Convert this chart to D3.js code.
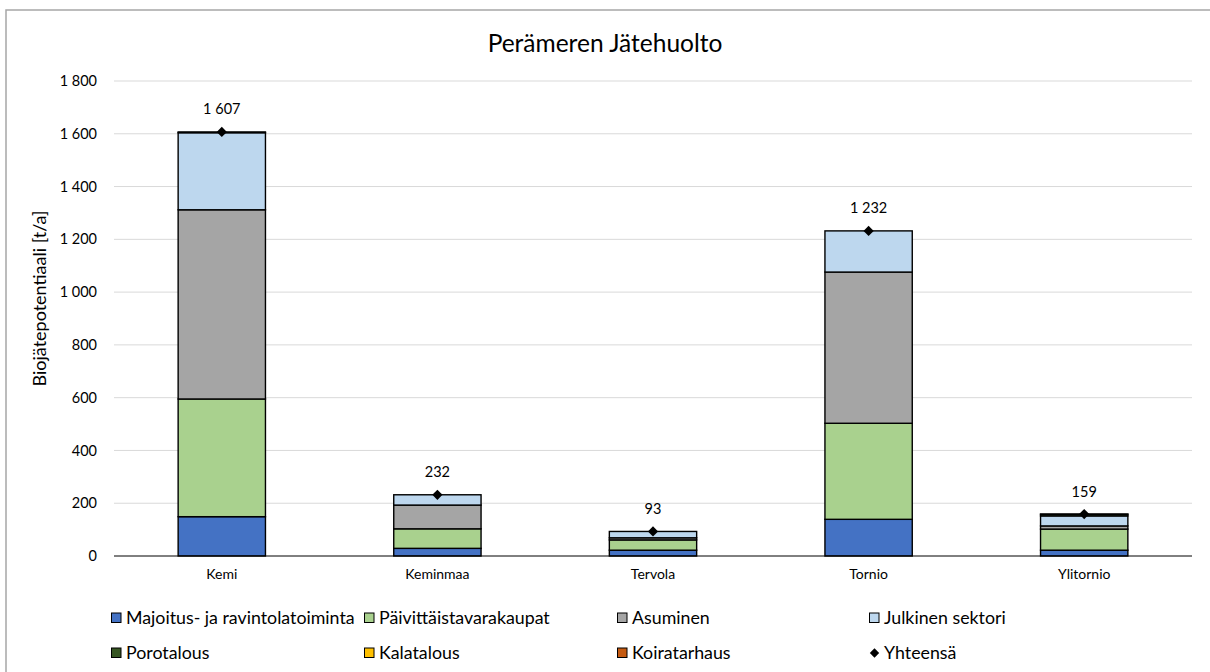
<!DOCTYPE html>
<html><head><meta charset="utf-8">
<script src="https://cdn.jsdelivr.net/npm/d3@7"></script>
<style>body{margin:0;background:#fff;} svg{display:block;font-family:Lato, "Open Sans", sans-serif;}</style>
</head><body>
<svg id="c" width="1210" height="672"></svg>
<script>
const categories = ["Kemi","Keminmaa","Tervola","Tornio","Ylitornio"];
const seriesNames = ["Majoitus- ja ravintolatoiminta","Päivittäistavarakaupat","Asuminen","Julkinen sektori","Porotalous","Kalatalous","Koiratarhaus"];
const majoitus = [149, 29, 22, 139, 22];
const paivittais = [446, 74, 39, 364, 80];
const asuminen = [717, 90, 8, 573, 12];
const julkinen = [292, 39, 24, 156, 38];
const porotalous = [3, 0, 0, 0, 6];
const kalatalous = [0, 0, 0, 0, 1];
const koiratarhaus = [0, 0, 0, 0, 0];
const yhteensa = [1607, 232, 93, 1232, 159];
const yTicks = [0,200,400,600,800,1000,1200,1400,1600,1800];
const colors = ["#4472C4","#A9D18E","#A5A5A5","#BDD7EE","#375623","#FFC000","#C55A11"];

const seriesArrays = [majoitus,paivittais,asuminen,julkinen,porotalous,kalatalous,koiratarhaus];
const rows = categories.map((c,i)=>{const o={cat:c}; seriesNames.forEach((s,j)=>o[s]=seriesArrays[j][i]); return o;});
const stack = d3.stack().keys(seriesNames)(rows);

const svg = d3.select("#c");
const fmt = v => d3.format(",")(v).replace(/,/g," ");
svg.append("rect").attr("x",6).attr("y",10).attr("width",1220).attr("height",680)
  .attr("fill","#fff").attr("stroke","#A6A6A6").attr("stroke-width",1.5);

const x = d3.scaleBand().domain(categories).range([114,1192]).paddingInner(0.595).paddingOuter(0.2975);
const y = d3.scaleLinear().domain([0,1800]).range([556,81]);

// gridlines
svg.append("g").selectAll("line").data(yTicks.filter(t=>t>0)).join("line")
  .attr("x1",114).attr("x2",1192).attr("y1",d=>y(d)).attr("y2",d=>y(d))
  .attr("stroke","#D9D9D9").attr("stroke-width",1);

// y axis labels
const yAxis = d3.axisLeft(y).tickValues(yTicks).tickFormat(fmt).tickSize(0).tickPadding(0);
const gy = svg.append("g").attr("transform","translate(97,0)").call(yAxis);
gy.select(".domain").remove();
gy.selectAll("text").attr("font-size",14.5).attr("fill","#000").attr("font-family","Lato, sans-serif");

// bars
svg.append("g").selectAll("g").data(stack).join("g").attr("fill",(d,i)=>colors[i])
  .selectAll("rect").data(d=>d.filter(p=>p[1]-p[0]>0)).join("rect")
  .attr("x",d=>x(d.data.cat)).attr("width",x.bandwidth())
  .attr("y",d=>y(d[1])).attr("height",d=>y(d[0])-y(d[1]))
  .attr("stroke","#000").attr("stroke-width",1.4);

// baseline
svg.append("line").attr("x1",114).attr("x2",1192).attr("y1",y(0)).attr("y2",y(0)).attr("stroke","#000").attr("stroke-width",1);

// x axis labels
const xAxis = d3.axisBottom(x).tickSize(0).tickPadding(0);
const gx = svg.append("g").attr("transform",`translate(0,${y(0)+13})`).call(xAxis);
gx.select(".domain").remove();
gx.selectAll("text").attr("font-size",14).attr("fill","#000").attr("font-family","Lato, sans-serif");

// totals markers
const diamond = d3.symbol().type(d3.symbolSquare).size(52);
svg.append("g").selectAll("path").data(yhteensa).join("path")
  .attr("d",diamond).attr("transform",(d,i)=>`translate(${x(categories[i])+x.bandwidth()/2},${y(d)}) rotate(45)`).attr("fill","#000");
svg.append("g").selectAll("text").data(yhteensa).join("text")
  .attr("x",(d,i)=>x(categories[i])+x.bandwidth()/2).attr("y",d=>y(d)-17.5)
  .attr("text-anchor","middle").attr("font-size",14.5).attr("fill","#000").text(fmt);

// title
svg.append("text").attr("x",605).attr("y",52).attr("text-anchor","middle").attr("font-size",24.5).attr("fill","#000").text("Perämeren Jätehuolto");

// y title
svg.append("text").attr("transform","translate(46,298.5) rotate(-90)").attr("text-anchor","middle")
  .attr("font-size",18).attr("fill","#000").text("Biojätepotentiaali [t/a]");

// legend
const legendItems = seriesNames.concat(["Yhteensä"]);
const colX = [111,364,617,869];
const rowY = [617.5,652.5];
const lg = svg.append("g").selectAll("g").data(legendItems).join("g")
  .attr("transform",(d,i)=>`translate(${colX[i%4]},${rowY[Math.floor(i/4)]})`);
lg.each(function(d,i){
  const g = d3.select(this);
  if(i<7){
    g.append("rect").attr("x",0.5).attr("y",-4.5).attr("width",9.5).attr("height",9.5)
      .attr("fill",colors[i]).attr("stroke","#000").attr("stroke-width",1);
  } else {
    g.append("path").attr("d",d3.symbol().type(d3.symbolSquare).size(44)).attr("transform","translate(5.5,0.5) rotate(45)").attr("fill","#000");
  }
  g.append("text").attr("x",15).attr("y",6).attr("font-size",17.8).attr("fill","#000").text(d);
});
</script>
</body></html>
